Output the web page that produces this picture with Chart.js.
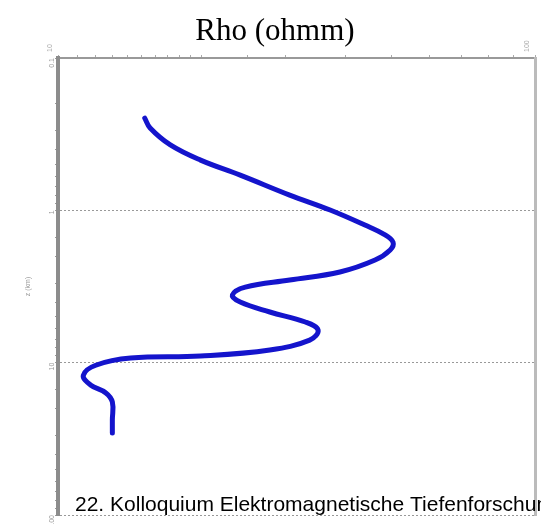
<!DOCTYPE html>
<html>
<head>
<meta charset="utf-8">
<script src="https://cdn.jsdelivr.net/npm/chart.js@4.4.0/dist/chart.umd.min.js"></script>
<style>
  html,body{margin:0;padding:0;background:#fff;}
  #wrap{width:541px;height:524px;position:relative;}
</style>
</head>
<body>
<div id="wrap"><canvas id="rhoChart" width="541" height="524"></canvas></div>
<script>
// resistivity (ohm m) against depth (km)
const rho   = [15.2, 15.6, 17.2, 19.9, 24.1, 30.6, 37.2, 44.0, 48.5, 50.4, 49.7, 46.2, 39.0, 30.6, 24.7, 23.2, 24.1, 27.8, 33.0, 35.1, 33.7, 27.8, 19.9, 14.2, 12.0, 11.3, 11.7, 12.6, 13.0, 13.0, 13.0];
const depth = [0.248, 0.288, 0.372, 0.468, 0.587, 0.794, 0.995, 1.25, 1.45, 1.62, 1.82, 2.12, 2.54, 2.87, 3.19, 3.60, 4.0, 4.65, 5.41, 6.11, 7.11, 8.26, 9.05, 9.33, 10.4, 12.1, 14.0, 15.8, 18.1, 23.8, 29.0];
const xTickLabels = {10:"10", 100:"100"};
const yTickLabels = {0.1:"0.1", 1:"1", 10:"10", 100:"100"};

const isDecade = v => Math.abs(Math.log10(v) - Math.round(Math.log10(v))) < 1e-6;

const textPlugin = {
  id: "texts",
  afterDraw(chart){
    const ctx = chart.ctx;
    ctx.save();
    ctx.fillStyle = "#000";
    ctx.font = "31px 'Liberation Serif', serif";
    ctx.textAlign = "center";
    ctx.fillText("Rho (ohmm)", 275, 40);
    ctx.font = "21px 'Liberation Sans', Arial, sans-serif";
    ctx.textAlign = "left";
    ctx.fillText("22. Kolloquium Elektromagnetische Tiefenforschung", 75, 511);
    ctx.restore();
  }
};

new Chart(rhoChart, {
  type: "scatter",
  data: {
    datasets: [{
      data: rho.map((r, i) => ({x: r, y: depth[i]})),
      showLine: true,
      tension: 0.4,
      borderColor: "#1414cc",
      borderWidth: 5,
      borderCapStyle: "round",
      pointRadius: 0
    }]
  },
  options: {
    responsive: false,
    animation: false,
    layout: {padding: {top: 0, right: 0, bottom: 9, left: 0}},
    plugins: {legend: {display: false}, tooltip: {enabled: false}},
    scales: {
      x: {
        type: "logarithmic",
        position: "top",
        min: 10, max: 100,
        afterFit: s => { s.height = 58; },
        grid: {drawOnChartArea: false, tickLength: 3, tickColor: "#aaa", tickWidth: 1},
        border: {color: "#999", width: 2},
        ticks: {
          autoSkip: false, minRotation: 90, maxRotation: 90,
          color: "#aaa", font: {size: 7},
          callback: v => xTickLabels[v] || ""
        }
      },
      y: {
        type: "logarithmic",
        reverse: true,
        min: 0.1, max: 100,
        afterFit: s => { s.width = 58; },
        grid: {
          color: c => isDecade(c.tick.value) ? "#999" : "rgba(0,0,0,0)",
          tickColor: "#999", tickLength: 3, lineWidth: 1
        },
        border: {color: "#8c8c8c", width: 4, dash: [2, 2]},
        title: {display: true, text: "z (km)", color: "#999", font: {size: 7}, padding: {top: 24, bottom: 0}},
        ticks: {
          autoSkip: false, minRotation: 90, maxRotation: 90,
          color: "#999", font: {size: 7},
          callback: v => yTickLabels[v] || ""
        }
      },
      y2: {
        type: "logarithmic",
        position: "right",
        reverse: true,
        min: 0.1, max: 100,
        afterFit: s => { s.width = 6; },
        grid: {drawOnChartArea: false, drawTicks: false},
        border: {color: "#bbb", width: 3},
        ticks: {display: false}
      }
    }
  },
  plugins: [textPlugin]
});
</script>
</body>
</html>
